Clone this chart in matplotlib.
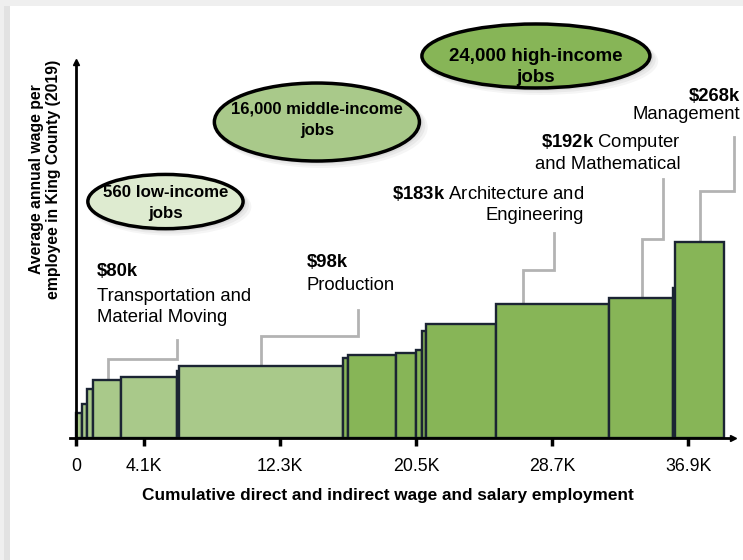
import matplotlib
matplotlib.use("Agg")
import matplotlib.pyplot as plt
from matplotlib.patches import Ellipse, Rectangle
import numpy as np

plt.rcParams['font.family'] = ['Liberation Sans', 'DejaVu Sans']
plt.rcParams['mathtext.fontset'] = 'custom'
plt.rcParams['mathtext.rm'] = 'Liberation Sans'
plt.rcParams['mathtext.bf'] = 'Liberation Sans:bold'

# employment per occupation group (thousands) and average wage ($k)
jobs = [0.39, 0.29, 0.36, 1.71, 3.32, 0.13, 9.9, 0.3, 2.9, 1.2, 0.35, 0.22, 4.21, 6.82, 3.85, 0.15, 2.95]
wage = [34.5, 47, 67, 80, 84, 92, 98, 109, 114, 117, 120, 147, 156, 183, 192, 205, 268]
light = [True] * 7 + [False] * 10

tick_pos = [0, 4.1, 12.3, 20.5, 28.7, 36.9]
tick_lab = ['0', '4.1K', '12.3K', '20.5K', '28.7K', '36.9K']

light_green = '#a9c98a'
dark_green = '#87b557'
pale_green = '#deebd0'
edge = '#1b2433'
grey = '#b3b3b3'

fig = plt.figure(figsize=(7.43, 5.6), dpi=100)
fig.patch.set_facecolor('#efefef')
# white panel with a faint shadow on the left
fig.add_artist(Rectangle((0.006, 0.0), 1.0, 0.989, transform=fig.transFigure,
                         facecolor='#e2e2e2', edgecolor='none', zorder=-3))
fig.add_artist(Rectangle((0.0135, 0.0), 1.0, 0.989, transform=fig.transFigure,
                         facecolor='white', edgecolor='none', zorder=-2))

ax = fig.add_axes([0.0942, 0.2173, 0.8923, 0.672])
ax.set_facecolor('none')
ax.set_xlim(-0.35, 39.58)
ax.set_ylim(0, 513.4)

lefts = np.concatenate([[0], np.cumsum(jobs)[:-1]])
colors = [light_green if l else dark_green for l in light]
ax.bar(lefts, wage, width=jobs, align='edge', color=colors,
       edgecolor=edge, linewidth=1.7, zorder=3)

# axes with arrows
for s in ['top', 'right']:
    ax.spines[s].set_visible(False)
ax.spines['left'].set_position(('data', 0))
ax.spines['left'].set_linewidth(2)
ax.spines['bottom'].set_linewidth(2)
ax.spines['left'].set_zorder(4)
ax.spines['bottom'].set_zorder(4)
ax.plot(1, 0, '>', color='black', markersize=5, transform=ax.transAxes, clip_on=False)
ax.plot(0, 1, '^', color='black', markersize=5,
        transform=ax.get_xaxis_transform(), clip_on=False)

ax.set_yticks([])
ax.set_xticks(tick_pos)
ax.set_xticklabels(tick_lab, fontsize=12.8)
ax.tick_params(axis='x', direction='out', length=6, width=2.5, pad=8)

xl = ax.set_xlabel('Cumulative direct and indirect wage and salary employment',
                   fontsize=12.4, fontweight='bold')
xl.set_va('center')
ax.xaxis.set_label_coords(0.4796, -0.1507)
fig.text(0.061, 0.68, 'Average annual wage per\nemployee in King County (2019)',
         rotation=90, ha='center', va='center', fontsize=11.3,
         fontweight='bold', linespacing=1.15)

# connector lines from bars to labels
connectors = [
    [(1.93, 80), (1.93, 108.2), (6.08, 108.2), (6.08, 134.1)],
    [(11.14, 98), (11.14, 139.6), (16.99, 139.6), (16.99, 175.0)],
    [(26.93, 183), (26.93, 229.6), (28.80, 229.6), (28.80, 280.1)],
    [(34.10, 192), (34.10, 271.9), (35.36, 271.9), (35.36, 353.8)],
    [(37.59, 268), (37.59, 337.4), (39.64, 337.4), (39.64, 411.1)],
]
for c in connectors:
    xs, ys = zip(*c)
    ax.plot(xs, ys, color=grey, linewidth=2, zorder=2, clip_on=False,
            solid_joinstyle='miter')

fs = 13.3
ax.text(1.27, 227, '$80k', fontsize=fs, fontweight='bold', va='center')
ax.text(1.27, 179, 'Transportation and\nMaterial Moving', fontsize=fs,
        va='center', linespacing=1.25)
ax.text(13.9, 240.5, '$98k', fontsize=fs, fontweight='bold', va='center')
ax.text(13.9, 209, 'Production', fontsize=fs, va='center')
ax.text(30.6, 319.6, r'$\mathbf{\$183k}$ Architecture and' + '\nEngineering',
        fontsize=fs, ha='right', va='center', multialignment='right', linespacing=1.25)
ax.text(36.45, 389.9, r'$\mathbf{\$192k}$ Computer' + '\nand Mathematical',
        fontsize=fs, ha='right', va='center', multialignment='right', linespacing=1.25)
ax.text(40.0, 467, '$268k', fontsize=fs, fontweight='bold', ha='right', va='center',
        clip_on=False)
ax.text(40.0, 453, 'Management', fontsize=fs, ha='right', va='top', clip_on=False)

# income group bubbles: text, centre, size, colour, font size, text y, line spacing
bubbles = [
    ('560 low-income\njobs', 5.4, 323, 9.35, 74.0, pale_green, 12.2, 321, 1.5),
    ('16,000 middle-income\njobs', 14.52, 431.5, 12.35, 106.4, light_green, 12.0, 435, 1.55),
    ('24,000 high-income\njobs', 27.71, 521.6, 13.73, 87.3, dark_green, 13.5, 506, 1.3),
]
for txt, cx, cy, w, h, fc, tfs, ty, ls in bubbles:
    for k, a in [(1.0, 0.08), (0.7, 0.10), (0.4, 0.13)]:
        ax.add_patch(Ellipse((cx + k * 0.3, cy - k * 7), w + k * 0.4, h + k * 5,
                             facecolor='#808080', edgecolor='none', alpha=a,
                             clip_on=False, zorder=5))
    ax.add_patch(Ellipse((cx, cy), w, h, facecolor=fc, edgecolor='black',
                         linewidth=2.5, clip_on=False, zorder=6))
    ax.text(cx, ty, txt, fontsize=tfs, fontweight='bold', ha='center', va='center',
            linespacing=ls, zorder=7, clip_on=False)

fig.savefig('out.png', dpi=100, facecolor=fig.get_facecolor())
